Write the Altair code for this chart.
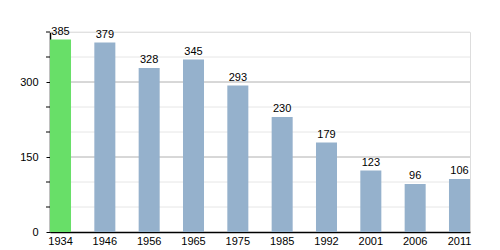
import altair as alt
import pandas as pd

years = ["1934", "1946", "1956", "1965", "1975", "1985", "1992", "2001", "2006", "2011"]
values = [385, 379, 328, 345, 293, 230, 179, 123, 96, 106]
colors = ["#68df68", "#95b1cc", "#95b1cc", "#95b1cc", "#95b1cc", "#95b1cc", "#95b1cc", "#95b1cc", "#95b1cc", "#95b1cc"]
minor_grid = [50, 100, 200, 250, 350, 400]
major_grid = [150, 300]
y_labels = [0, 150, 300]

bars_df = pd.DataFrame({"year": years, "value": values, "color": colors})
minor_df = pd.DataFrame({"v": minor_grid})
major_df = pd.DataFrame({"v": major_grid})

yscale = alt.Scale(domain=[0, 400], nice=False)
xscale = alt.Scale(paddingInner=0.526, paddingOuter=0)

yaxis = alt.Axis(title=None, values=y_labels,
                 labelOverlap=False, labelFlush=False,
                 grid=False, tickSize=4, tickColor="#000000", domainColor="#000000",
                 domainWidth=1.5, labelPadding=8, labelFontSize=11,
                 labelColor="#000000", labelFont="Liberation Sans")

minor = alt.Chart(minor_df).mark_rule(color="#e6e6e6", strokeWidth=1).encode(
    y=alt.Y("v:Q", scale=yscale, axis=yaxis)
)
minor_ticks = alt.Chart(minor_df).mark_rule(color="#000000", strokeWidth=1, clip=False).encode(
    y=alt.Y("v:Q", scale=yscale),
    x=alt.value(-4), x2=alt.value(0),
)
major = alt.Chart(major_df).mark_rule(color="#b0b0b0", strokeWidth=1).encode(
    y=alt.Y("v:Q", scale=yscale)
)

base = alt.Chart(bars_df).encode(
    x=alt.X("year:O", scale=xscale, sort=years,
            axis=alt.Axis(title=None, labelAngle=0, ticks=False, domainColor="#000000",
                          domainWidth=1.5, labelPadding=3, labelFontSize=11,
                          labelColor="#000000", labelFont="Liberation Sans")),
)

bars = base.mark_bar().encode(
    y=alt.Y("value:Q", scale=yscale),
    color=alt.Color("color:N", scale=None),
)

labels = base.mark_text(baseline="alphabetic", dy=-5, fontSize=11, font="Liberation Sans",
                        color="#000000").encode(
    y=alt.Y("value:Q", scale=yscale),
    text="value:Q",
)

chart = alt.layer(minor, major, minor_ticks, bars, labels).properties(
    width=420, height=200,
    autosize=alt.AutoSizeParams(type="none"),
    padding={"left": 50, "top": 32, "right": 30, "bottom": 18},
).configure_view(stroke=None).configure(background="white")

chart.save("out.html", embed_options={"renderer": "svg", "actions": False})
